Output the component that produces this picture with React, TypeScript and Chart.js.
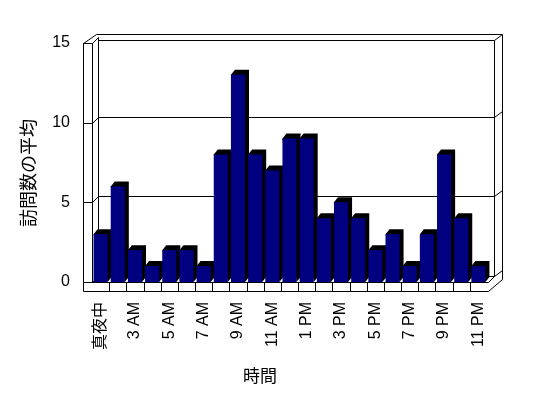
import React, { useEffect, useRef } from "react";
import { Chart, registerables } from "chart.js";

Chart.register(...registerables);

// ---- data ----
const categories: string[] = [
  "真夜中", "1 AM", "3 AM", "4 AM", "5 AM", "6 AM", "7 AM", "8 AM", "9 AM", "10 AM", "11 AM", "正午",
  "1 PM", "2 PM", "3 PM", "4 PM", "5 PM", "6 PM", "7 PM", "8 PM", "9 PM", "10 PM", "11 PM",
];
const visits: number[] = [3, 6, 2, 1, 2, 2, 1, 8, 13, 8, 7, 9, 9, 4, 5, 4, 2, 3, 1, 3, 8, 4, 1];
const yMin = 0;
const yMax = 15;
const yStep = 5;
const gridValues: number[] = [5, 10];
const xTitle = "時間";
const yTitle = "訪問数の平均";

const LATIN = "'Liberation Sans', 'Noto Sans CJK JP', sans-serif";
const CJK = "'Noto Sans CJK JP', sans-serif";

const px = (v: number) => Math.round(v) + 0.5;

const threeD = {
  id: "threeD",
  beforeDatasetsDraw(chart: any) {
    const { ctx, chartArea: a, scales } = chart;
    const xs = scales.x;
    const ys = scales.y;
    const L = a.left, R = a.right, T = a.top, B = a.bottom;
    ctx.save();
    ctx.lineWidth = 1;
    ctx.strokeStyle = "#000";
    const seg = (pts: number[][]) => {
      ctx.beginPath();
      ctx.moveTo(px(pts[0][0]), px(pts[0][1]));
      for (let i = 1; i < pts.length; i++) ctx.lineTo(px(pts[i][0]), px(pts[i][1]));
      ctx.stroke();
    };
    // outer outline
    ctx.fillStyle = "#fff";
    seg([[L - 9, B + 9], [L - 9, T], [L + 4, T - 9], [R + 15, T - 9], [R + 15, B - 3], [R + 1, B + 9], [L - 9, B + 9]]);
    // left wall front face
    seg([[L - 9, T], [L, T], [L, B]]);
    seg([[L, T], [L + 6, T - 6], [L + 6, B - 6]]);
    // back wall inner face
    seg([[L + 6, T - 3], [R + 7, T - 3], [R + 7, B - 6]]);
    seg([[R + 7, T - 3], [R + 15, T - 9]]);
    // floor
    seg([[L - 9, B], [R + 1, B], [R + 7, B - 6]]);
    seg([[L, B], [L + 6, B - 6], [R + 7, B - 6]]);
    seg([[R + 7, B - 6], [R + 15, B - 12]]);
    // floor divisions
    const n = categories.length;
    for (let k = 1; k < n; k++) {
      const xb = (xs.getPixelForValue(k - 1) + xs.getPixelForValue(k)) / 2;
      seg([[xb, B], [xb, B + 9]]);
    }
    // gridlines
    gridValues.forEach((v) => {
      const yf = ys.getPixelForValue(v);
      seg([[L - 9, yf], [L, yf], [L + 6, yf - 6], [R + 7, yf - 6], [R + 15, yf - 12]]);
    });
    // bar sides / tops
    ctx.fillStyle = "#000";
    const meta = chart.getDatasetMeta(0);
    meta.data.forEach((el: any) => {
      const p = el.getProps(["x", "y", "base", "width"], true);
      const l = p.x - p.width / 2;
      const r = p.x + p.width / 2;
      const top = p.y;
      const base = p.base;
      ctx.beginPath();
      ctx.moveTo(l, top);
      ctx.lineTo(l + 4, top - 5);
      ctx.lineTo(r + 4, top - 5);
      ctx.lineTo(r + 4, base - 5);
      ctx.lineTo(r, base);
      ctx.closePath();
      ctx.fill();
    });
    ctx.restore();
  },
  afterDraw(chart: any) {
    const { ctx, chartArea: a } = chart;
    ctx.save();
    ctx.fillStyle = "#000";
    ctx.textAlign = "center";
    ctx.textBaseline = "middle";
    ctx.font = `17px ${CJK}`;
    ctx.fillText(xTitle, a.left + 168, a.bottom + 94);
    ctx.translate(a.left - 64, a.top + 130);
    ctx.rotate(-Math.PI / 2);
    ctx.font = `18px ${CJK}`;
    ctx.fillText(yTitle, 0, 0);
    ctx.restore();
  },
};

export default function App() {
  const ref = useRef<HTMLCanvasElement>(null);
  useEffect(() => {
    document.body.style.margin = "0";
    const chart = new Chart(ref.current as HTMLCanvasElement, {
      type: "bar",
      data: {
        labels: categories,
        datasets: [
          {
            data: visits,
            backgroundColor: "#000080",
            borderWidth: 0,
            barPercentage: 0.82,
            categoryPercentage: 1,
          },
        ],
      },
      options: {
        responsive: false,
        animation: false,
        devicePixelRatio: 1,
        layout: { padding: { left: 0, right: 61, top: 43, bottom: 0 } },
        plugins: { legend: { display: false }, tooltip: { enabled: false }, title: { display: false } },
        scales: {
          x: {
            grid: { display: false, drawTicks: false },
            border: { display: false },
            ticks: {
              autoSkip: false,
              minRotation: 90,
              maxRotation: 90,
              padding: 20,
              color: "#000",
              font: { family: LATIN, size: 16 },
              callback: (_v: any, i: number) => (i % 2 === 0 ? categories[i] : ""),
            },
            afterFit: (s: any) => {
              s.height = 116;
            },
          },
          y: {
            min: yMin,
            max: yMax,
            grid: { display: false, drawTicks: false },
            border: { display: false },
            ticks: {
              stepSize: yStep,
              padding: 22,
              color: "#000",
              font: { family: LATIN, size: 16 },
            },
            afterFit: (s: any) => {
              s.width = 92;
            },
          },
        },
      },
      plugins: [threeD],
    });
    return () => chart.destroy();
  }, []);
  return (
    <div style={{ width: 548, height: 398 }}>
      <canvas ref={ref} width={548} height={398} style={{ display: "block" }} />
    </div>
  );
}
